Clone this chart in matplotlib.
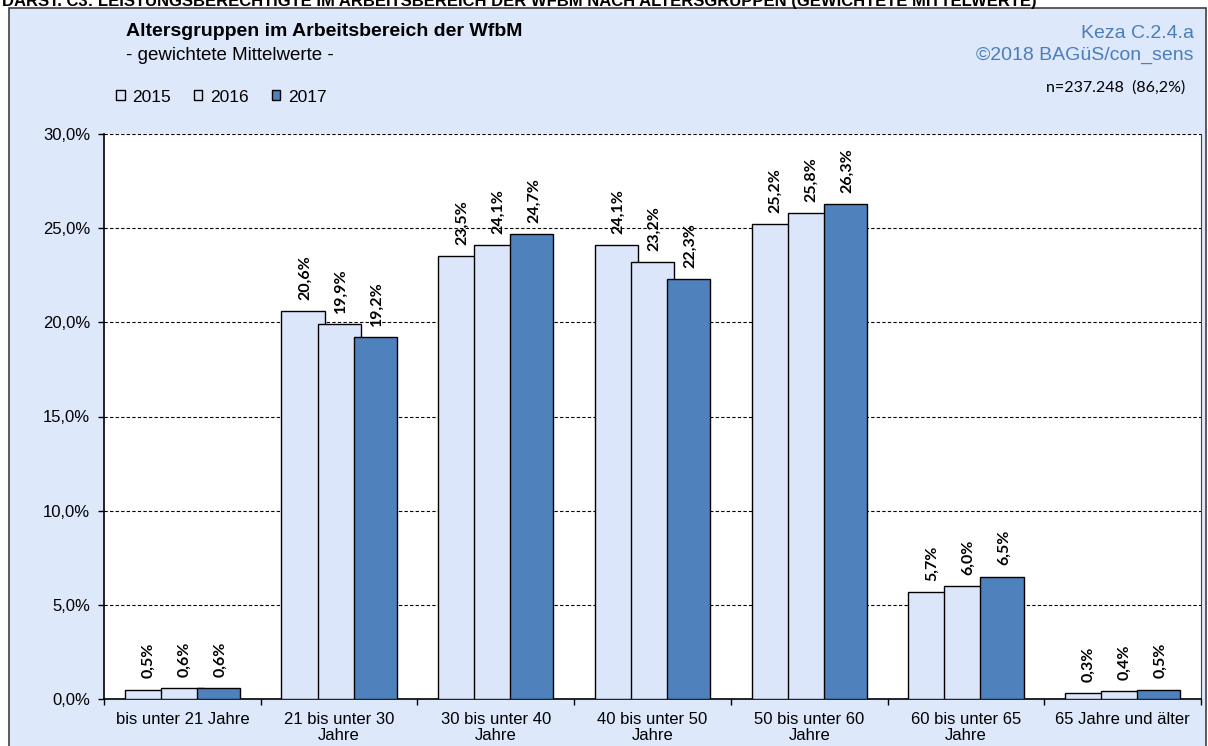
import matplotlib.pyplot as plt
import numpy as np
from matplotlib.patches import Rectangle

# Daten aus der Grafik (Anteile in %)
kategorien = ["bis unter 21 Jahre", "21 bis unter 30\nJahre", "30 bis unter 40\nJahre",
              "40 bis unter 50\nJahre", "50 bis unter 60\nJahre", "60 bis unter 65\nJahre",
              "65 Jahre und älter"]
jahre = ["2015", "2016", "2017"]
werte_2015 = [0.5, 20.6, 23.5, 24.1, 25.2, 5.7, 0.3]
werte_2016 = [0.6, 19.9, 24.1, 23.2, 25.8, 6.0, 0.4]
werte_2017 = [0.6, 19.2, 24.7, 22.3, 26.3, 6.5, 0.5]
y_ticks = [0, 5, 10, 15, 20, 25, 30]

W, H = 1208, 746
hell = '#DCE6FA'
blau = '#4F81BD'

plt.rcParams['font.family'] = ['Liberation Sans', 'DejaVu Sans']

fig = plt.figure(figsize=(W / 100, H / 100), dpi=100)
fig.patch.set_facecolor('white')

"Rahmen der Grafik"
fig.add_artist(Rectangle((9 / W, -0.01), (1206 - 9) / W, 1.01 - 8 / H, transform=fig.transFigure,
                         facecolor='#DEE8FB', edgecolor='#404040', lw=1.2, zorder=0))

fig.text(2 / W, 1 - 6 / H,
         "DARST. C3: LEISTUNGSBERECHTIGTE IM ARBEITSBEREICH DER WFBM NACH ALTERSGRUPPEN (GEWICHTETE MITTELWERTE)",
         fontsize=12, fontweight='bold', va='baseline', ha='left')

fig.text(126 / W, 1 - 32 / H, "Altersgruppen im Arbeitsbereich der WfbM", fontsize=14,
         fontweight='bold', va='center', ha='left')
fig.text(126 / W, 1 - 55 / H, "- gewichtete Mittelwerte -", fontsize=13.5, va='center', ha='left')

fig.text(1194 / W, 1 - 34 / H, "Keza C.2.4.a", fontsize=14, color='#4A7EBB', va='center', ha='right')
fig.text(1194 / W, 1 - 55 / H, "©2018 BAGüS/con_sens", fontsize=14, color='#4A7EBB', va='center', ha='right')
fig.text(1185 / W, 1 - 88 / H, "n=237.248  (86,2%)", fontsize=11.5, family=['Lato', 'DejaVu Sans'],
         va='center', ha='right')

ax = fig.add_axes([104 / W, 1 - 699 / H, (1201 - 104) / W, (699 - 134) / H])
ax.set_facecolor('white')

x = np.arange(len(kategorien)) + 0.5
breite = 0.275
abstand = 0.23

b1 = ax.bar(x - abstand, werte_2015, breite, color=hell, edgecolor='black', lw=1, zorder=3)
b2 = ax.bar(x, werte_2016, breite, color=hell, edgecolor='black', lw=1, zorder=3)
b3 = ax.bar(x + abstand, werte_2017, breite, color=blau, edgecolor='black', lw=1, zorder=3)

for bars, werte in [(b1, werte_2015), (b2, werte_2016), (b3, werte_2017)]:
    for rect, v in zip(bars, werte):
        ax.annotate(("%.1f%%" % v).replace(".", ","),
                    (rect.get_x() + rect.get_width() / 2, v),
                    xytext=(1.5, 8), textcoords='offset points', rotation=90,
                    ha='center', va='bottom', fontsize=11.5, fontweight='bold',
                    family=['Lato', 'DejaVu Sans'], zorder=4)

ax.set_xlim(0, len(kategorien))
ax.set_ylim(0, 30)
ax.set_yticks(y_ticks)
ax.set_yticklabels([("%.1f%%" % t).replace(".", ",") for t in y_ticks], fontsize=12)
ax.yaxis.grid(True, linestyle=(0, (3, 2)), color='black', lw=0.8, zorder=1)
ax.set_axisbelow(True)

ax.set_xticks(np.arange(len(kategorien) + 1))
ax.set_xticklabels([])
ax.set_xticks(x, minor=True)
ax.set_xticklabels(kategorien, minor=True, fontsize=12, linespacing=1.15)
ax.tick_params(axis='x', which='minor', length=0, pad=9)
ax.tick_params(axis='both', which='major', direction='out', length=4, width=1)
ax.tick_params(axis='y', pad=6)

ax.spines['top'].set_visible(False)
ax.spines['right'].set_color('#404040')
ax.spines['left'].set_linewidth(1.2)
ax.spines['bottom'].set_linewidth(1.2)

fig.legend([b1, b2, b3], jahre, loc='center left', bbox_to_anchor=(116 / W, 1 - 97 / H),
           ncol=3, frameon=False, handlelength=0.5, handleheight=0.5, handletextpad=0.45,
           columnspacing=1.3, fontsize=12.5, borderaxespad=0, borderpad=0)

plt.savefig("out.png", dpi=100)
